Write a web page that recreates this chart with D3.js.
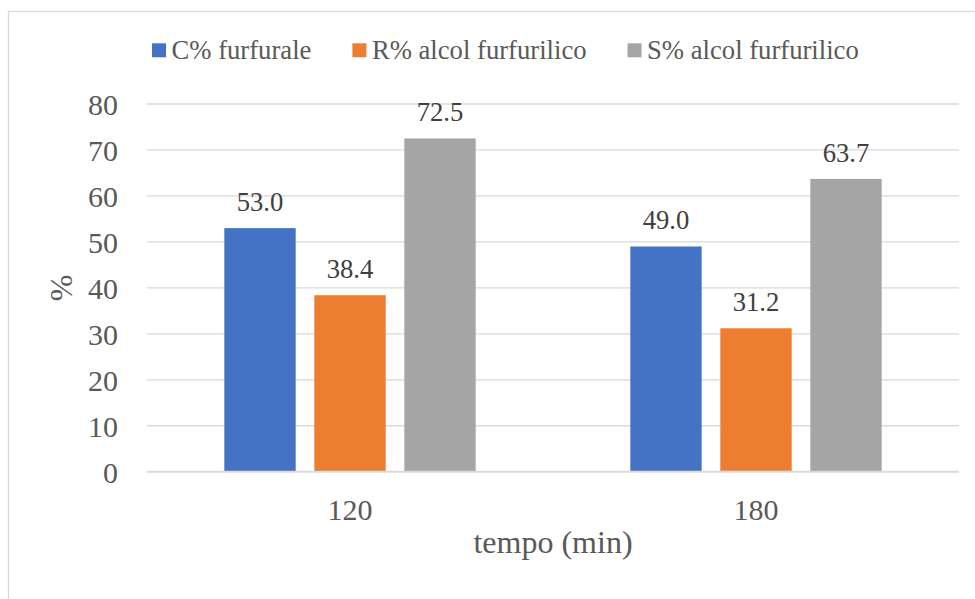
<!DOCTYPE html>
<html>
<head>
<meta charset="utf-8">
<script src="https://cdn.jsdelivr.net/npm/d3@7"></script>
<style>
  html, body { margin: 0; padding: 0; background: #fff; }
  svg { display: block; font-family: "Liberation Serif", "Times New Roman", serif; }
</style>
</head>
<body>
<svg id="chart" width="975" height="599"></svg>
<script>
// Time points (minutes) on the x axis
const categories = ["120", "180"];
// Series names shown in the legend
const seriesNames = ["C% furfurale", "R% alcol furfurilico", "S% alcol furfurilico"];
// Values per series, one entry per time point
const conversion = [53.0, 49.0];
const yieldAlcohol = [38.4, 31.2];
const selectivity = [72.5, 63.7];
const yTicks = [0, 10, 20, 30, 40, 50, 60, 70, 80];
const colors = ["#4472C4", "#ED7D31", "#A5A5A5"];

const seriesValues = [conversion, yieldAlcohol, selectivity];
const rows = categories.map((c, i) => ({
  cat: c,
  values: seriesNames.map((s, k) => ({ key: s, value: seriesValues[k][i], color: colors[k] }))
}));

const svg = d3.select("#chart");
const textColor = "#595959";
const plot = { left: 147, right: 959, top: 104, bottom: 471.7 };

// chart area frame
svg.append("rect")
  .attr("x", 8.5).attr("y", 11.5)
  .attr("width", 1000).attr("height", 1000)
  .attr("fill", "#fff")
  .attr("stroke", "#d9d9d9").attr("stroke-width", 1.3);

const y = d3.scaleLinear().domain([0, 80]).range([plot.bottom, plot.top]);
const x0 = d3.scaleBand().domain(categories).range([plot.left, plot.right]).padding(0);
const groupW = 270;
const x1 = d3.scaleBand().domain(seriesNames)
  .range([(x0.bandwidth() - groupW) / 2, (x0.bandwidth() + groupW) / 2])
  .paddingInner(0.207).paddingOuter(0.1035);

// horizontal gridlines
svg.append("g").selectAll("line")
  .data(yTicks.filter(d => d !== 0))
  .join("line")
  .attr("x1", plot.left).attr("x2", plot.right)
  .attr("y1", d => y(d)).attr("y2", d => y(d))
  .attr("stroke", "#d9d9d9").attr("stroke-width", 1.3);

// y axis tick labels
const yAxis = svg.append("g")
  .attr("transform", `translate(${plot.left},0)`)
  .call(d3.axisLeft(y).tickValues(yTicks).tickSize(0).tickPadding(29).tickFormat(d3.format("d")));
yAxis.select(".domain").remove();
yAxis.selectAll("text")
  .attr("fill", textColor)
  .attr("font-size", 30)
  .attr("font-family", "Liberation Serif, Times New Roman, serif")
  .attr("dy", "0.36em");

// bars
const groups = svg.append("g").selectAll("g")
  .data(rows)
  .join("g")
  .attr("transform", d => `translate(${x0(d.cat)},0)`);

groups.selectAll("rect")
  .data(d => d.values)
  .join("rect")
  .attr("x", d => x1(d.key))
  .attr("y", d => y(d.value))
  .attr("width", x1.bandwidth())
  .attr("height", d => y(0) - y(d.value))
  .attr("fill", d => d.color);

// value labels above bars
groups.selectAll("text")
  .data(d => d.values)
  .join("text")
  .attr("x", d => x1(d.key) + x1.bandwidth() / 2)
  .attr("y", d => y(d.value) - 17.4)
  .attr("text-anchor", "middle")
  .attr("font-size", 26.67)
  .attr("fill", "#404040")
  .text(d => d.value.toFixed(1));

// x axis baseline
svg.append("line")
  .attr("x1", plot.left).attr("x2", plot.right)
  .attr("y1", y(0)).attr("y2", y(0))
  .attr("stroke", "#d9d9d9").attr("stroke-width", 2);

// category labels
svg.append("g").selectAll("text")
  .data(categories)
  .join("text")
  .attr("x", d => x0(d) + x0.bandwidth() / 2)
  .attr("y", 519.5)
  .attr("text-anchor", "middle")
  .attr("font-size", 30)
  .attr("fill", textColor)
  .text(d => d);

// axis titles
svg.append("text")
  .attr("x", (plot.left + plot.right) / 2)
  .attr("y", 553)
  .attr("text-anchor", "middle")
  .attr("font-size", 32)
  .attr("fill", textColor)
  .text("tempo (min)");

svg.append("text")
  .attr("transform", `translate(72,${(plot.top + plot.bottom) / 2}) rotate(-90)`)
  .attr("text-anchor", "middle")
  .attr("font-size", 32)
  .attr("fill", textColor)
  .text("%");

// legend
const legend = svg.append("g");
let lx = 152;
seriesNames.forEach((name, i) => {
  legend.append("rect")
    .attr("x", lx).attr("y", 43.3)
    .attr("width", 14).attr("height", 14)
    .attr("fill", colors[i]);
  const t = legend.append("text")
    .attr("x", lx + 19.5).attr("y", 59.3)
    .attr("font-size", 26.67)
    .attr("fill", textColor)
    .text(name);
  lx = lx + 19.5 + t.node().getComputedTextLength() + 41;
});
</script>
</body>
</html>
